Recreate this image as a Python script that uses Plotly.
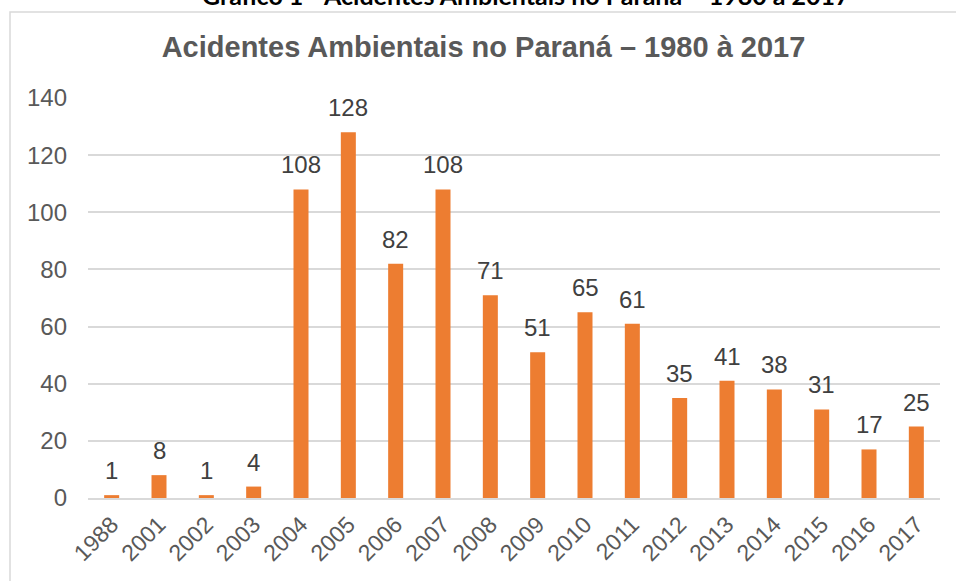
import plotly.graph_objects as go

years = ["1988", "2001", "2002", "2003", "2004", "2005", "2006", "2007", "2008",
         "2009", "2010", "2011", "2012", "2013", "2014", "2015", "2016", "2017"]
accidents = [1, 8, 1, 4, 108, 128, 82, 108, 71, 51, 65, 61, 35, 41, 38, 31, 17, 25]
y_ticks = [0, 20, 40, 60, 80, 100, 120, 140]

chart_title = "Acidentes Ambientais no Paraná – 1980 à 2017"
outer_title = "Gráfico 1 - Acidentes Ambientais no Paraná – 1980 à 2017"

W, H = 956, 581
ML, MR, MT, MB = 88, 16, 98, 83
pw, ph = W - ML - MR, H - MT - MB

def px_x(x):
    return (x - ML) / pw

def px_y(y):
    return (H - MB - y) / ph

fig = go.Figure()
fig.add_trace(go.Bar(
    x=years, y=accidents,
    marker=dict(color="#ED7D31", line=dict(width=0)),
    hoverinfo="x+y",
))

annotations = []
for i, v in enumerate(accidents):
    annotations.append(dict(
        x=i, y=v, xref="x", yref="y", text=str(v), showarrow=False,
        yanchor="bottom", yshift=9,
        font=dict(family="Liberation Sans, Arial, sans-serif", size=24, color="#404040"),
    ))

annotations.append(dict(
    x=491 / W, xref="paper", y=1.0, yref="paper", text="<b>" + outer_title + "</b>",
    showarrow=False, xanchor="center", yanchor="bottom",
    yshift=(px_y(12) - 1.0) * ph,
    font=dict(family="Lato, Liberation Sans, sans-serif", size=25, color="#000000"),
))

fig.update_layout(
    width=W, height=H,
    margin=dict(l=ML, r=MR, t=MT, b=MB, pad=0, autoexpand=False),
    paper_bgcolor="white", plot_bgcolor="white",
    showlegend=False,
    bargap=0.683,
    title=dict(
        text="<b>" + chart_title + "</b>",
        x=483.5 / W, xanchor="center", xref="container",
        y=1 - 47 / H, yanchor="middle", yref="container",
        font=dict(family="Liberation Sans, Arial, sans-serif", size=29, color="#595959"),
    ),
    xaxis=dict(
        type="category", tickangle=-45, range=[-0.5, len(years) - 0.5],
        tickfont=dict(family="Liberation Sans, Arial, sans-serif", size=23, color="#595959"),
        showgrid=False, showline=True, linecolor="#D9D9D9", linewidth=2,
        ticks="", ticklabelstandoff=2, automargin=False,
    ),
    yaxis=dict(
        range=[0, 140], tickvals=y_ticks,
        tickfont=dict(family="Liberation Sans, Arial, sans-serif", size=24, color="#595959"),
        showgrid=True, gridcolor="#D9D9D9", gridwidth=1.5,
        zeroline=False, showline=False, ticks="", ticklabelstandoff=20, automargin=False,
    ),
    annotations=annotations,
    shapes=[dict(
        type="rect", xref="paper", yref="paper",
        x0=px_x(10), x1=px_x(990), y0=px_y(620), y1=px_y(12),
        line=dict(color="#D9D9D9", width=1.5), fillcolor="rgba(0,0,0,0)", layer="below",
    )],
)

fig.write_html(
    "out.html",
    config={"displayModeBar": False},
    post_script="document.body.style.margin='0px';document.body.style.overflow='hidden';",
)
